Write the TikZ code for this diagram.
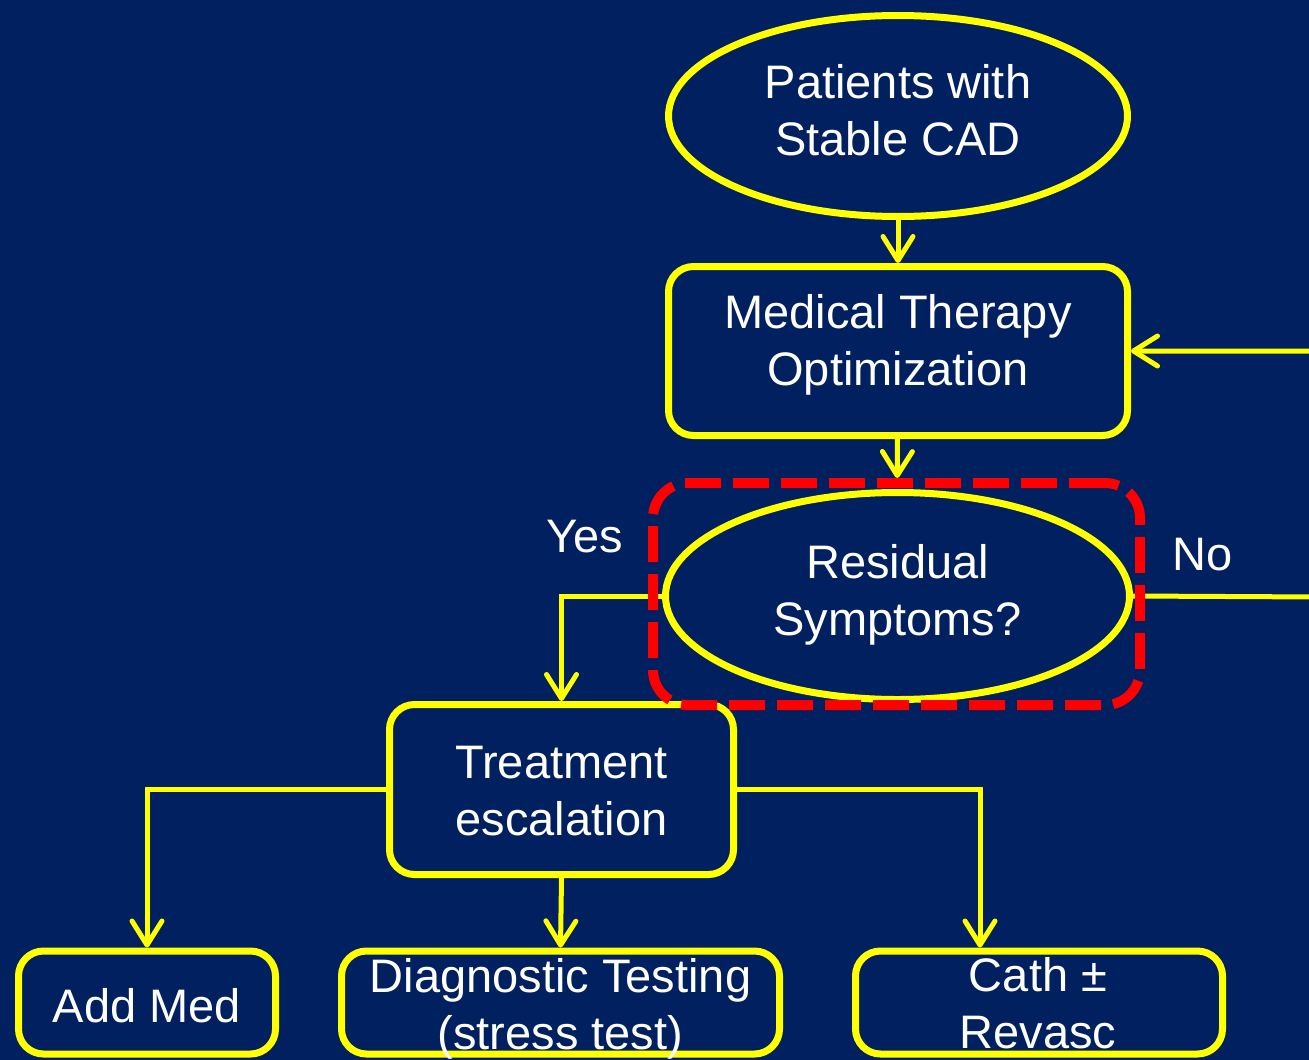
\documentclass[tikz,border=0pt]{standalone}
\usepackage{fontspec}
\setmainfont{Liberation Sans}
\usetikzlibrary{shapes.geometric,arrows.meta}
\definecolor{bgnavy}{RGB}{0,32,96}
\definecolor{yel}{RGB}{255,255,0}
\definecolor{redd}{RGB}{255,0,0}
\pgfdeclarelayer{fg}
\pgfsetlayers{main,fg}
\begin{document}
\begin{tikzpicture}[x=1pt,y=-1pt,
  txt/.style={text=white,align=center,font=\fontsize{47}{57}\selectfont,inner sep=0pt},
  ell/.style={ellipse,draw=yel,line width=7pt,fill=bgnavy,inner sep=0pt},
  rbox/.style={rectangle,rounded corners=25pt,draw=yel,line width=7pt,fill=bgnavy,inner sep=0pt},
  conn/.style={draw=yel,line width=5pt,-{Straight Barb[length=24pt,width=30pt,round]}},
  hlbox/.style={rectangle,draw=redd,line width=10pt,dash pattern=on 36pt off 12pt,rounded corners=35pt,minimum width=487pt,minimum height=222pt,inner sep=0pt}
]
\fill[bgnavy] (0,0) rectangle (1309,1060);
\useasboundingbox (0,0) rectangle (1309,1060);

% shapes
\node[ell,minimum width=459pt,minimum height=201pt] (e1) at (898,116) {};
\node[rbox,minimum width=459pt,minimum height=169pt] (b2) at (898,351) {};
\node[ell,minimum width=464pt,minimum height=207pt] (e2) at (897.5,596) {};
\begin{pgfonlayer}{fg}
\node[hlbox] (hl) at (896.5,594) {};
\end{pgfonlayer}
\node[rbox,minimum width=344pt,minimum height=170pt] (tb) at (561.5,789.5) {};
\node[rbox,minimum width=257pt,minimum height=103pt] (am) at (147,1002.5) {};
\node[rbox,minimum width=438pt,minimum height=103pt] (dt) at (560.5,1002.5) {};
\node[rbox,minimum width=367pt,minimum height=103pt] (cr) at (1039,1002.5) {};

% texts
\node[txt] (e1t) at (898,110) {Patients with\\Stable CAD};
\node[txt] (b2t) at (898,345) {Medical Therapy\\Optimization};
\node[txt] (e2t) at (897.5,595) {Residual\\Symptoms?};
\node[txt] (tbt) at (561.5,791.5) {Treatment\\escalation};
\node[txt] (amt) at (147,1005.5) {Add Med};
\node[txt] (dtt) at (560.5,1009) {Diagnostic Testing\\(stress test)};
\node[txt] (crt) at (1038,1003) {Cath ±\\Revasc};

\node[txt] (yes) at (585,537) {Yes};
\node[txt] (no) at (1203,555) {No};

\coordinate (noR) at (1320,597);
\coordinate (noT) at (1320,351);

\draw[conn] (e1) -- (b2);
\draw[conn] (b2) -- (hl);
\draw[conn] (e2.east) -- (noR) -- (noT) -- (b2.east);
\draw[conn] (e2.west) -| (tb.north);
\draw[conn] (tb.west) -| (am.north);
\draw[conn] (tb.south) -- (dt.north);
\draw[conn] (tb.east) -| ([xshift=-59pt]cr.north);
\end{tikzpicture}
\end{document}
